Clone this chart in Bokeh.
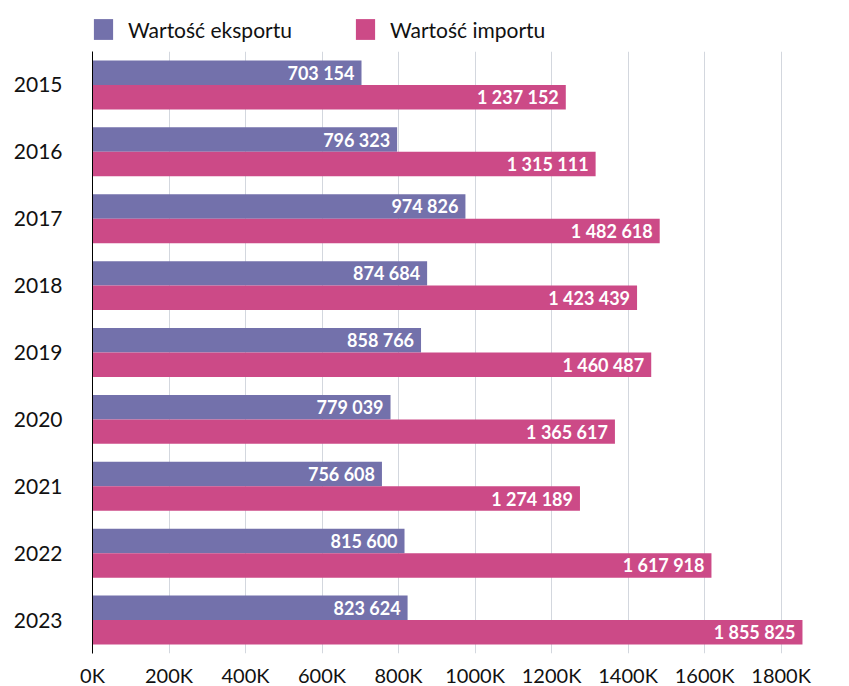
from bokeh.plotting import figure
from bokeh.layouts import column
from bokeh.models import (ColumnDataSource, FactorRange, Range1d, FixedTicker,
                          CustomJSTickFormatter, Legend, LegendItem)
from bokeh.transform import dodge
from bokeh.core.properties import value
from bokeh.embed import file_html
from bokeh.resources import INLINE

years = ["2015", "2016", "2017", "2018", "2019", "2020", "2021", "2022", "2023"]
export_vals = [703154, 796323, 974826, 874684, 858766, 779039, 756608, 815600, 823624]
import_vals = [1237152, 1315111, 1482618, 1423439, 1460487, 1365617, 1274189, 1617918, 1855825]
series_names = ["Wartość eksportu", "Wartość importu"]
x_ticks = [0, 200000, 400000, 600000, 800000, 1000000, 1200000, 1400000, 1600000, 1800000]

EXP_COLOR = "#7371ab"
IMP_COLOR = "#cc4a87"
FONT = "Lato"

def fmt(v):
    return f"{v:,}".replace(",", " ")

src = ColumnDataSource(dict(
    year=years,
    exp=export_vals,
    imp=import_vals,
    exp_lbl=[fmt(v) for v in export_vals],
    imp_lbl=[fmt(v) for v in import_vals],
))

# ---- main chart ----
p = figure(frame_width=746, frame_height=602, output_backend="svg", toolbar_location=None,
           y_range=FactorRange(*reversed(years)), x_range=Range1d(0, 1950000),
           min_border_left=92, min_border_right=3, min_border_top=0, min_border_bottom=26)
p.outline_line_color = None
p.background_fill_color = "white"

OFF = 0.183
H = 0.366
p.hbar(y=dodge("year", OFF, range=p.y_range), right="exp", left=0, height=H,
       source=src, color=EXP_COLOR, line_color=None)
p.hbar(y=dodge("year", -OFF, range=p.y_range), right="imp", left=0, height=H,
       source=src, color=IMP_COLOR, line_color=None)

p.text(x="exp", y=dodge("year", OFF, range=p.y_range), text="exp_lbl", source=src,
       x_offset=-7, text_align="right", text_baseline="middle", text_color="white",
       text_font=value(FONT), text_font_style="bold", text_font_size="18px")
p.text(x="imp", y=dodge("year", -OFF, range=p.y_range), text="imp_lbl", source=src,
       x_offset=-7, text_align="right", text_baseline="middle", text_color="white",
       text_font=value(FONT), text_font_style="bold", text_font_size="18px")

p.xaxis.ticker = FixedTicker(ticks=x_ticks)
p.xaxis.formatter = CustomJSTickFormatter(code="return (tick/1000).toFixed(0) + 'K';")
p.xaxis.axis_line_color = None
p.xaxis.major_tick_line_color = None
p.xaxis.minor_tick_line_color = None
p.xaxis.major_label_text_font = FONT
p.xaxis.major_label_text_font_size = "20px"
p.xaxis.major_label_text_color = "#111111"
p.xaxis.major_label_standoff = 3

p.yaxis.axis_line_color = "black"
p.yaxis.axis_line_width = 1
p.yaxis.major_tick_line_color = None
p.yaxis.minor_tick_line_color = None
p.yaxis.major_label_text_font = FONT
p.yaxis.major_label_text_font_size = "21px"
p.yaxis.major_label_text_color = "#111111"
p.yaxis.major_label_standoff = 24

p.xgrid.grid_line_color = "#d3d7de"
p.xgrid.grid_line_width = 1
p.ygrid.grid_line_color = None

# ---- legend strip ----
lg = figure(frame_width=746, frame_height=51, output_backend="svg", toolbar_location=None,
            x_axis_type=None, y_axis_type=None,
            x_range=Range1d(0, 1), y_range=Range1d(0, 1),
            min_border_left=92, min_border_right=3, min_border_top=0, min_border_bottom=0)
lg.outline_line_color = None
lg.xgrid.visible = False
lg.ygrid.visible = False
# proxy renderers for the legend (their data lie outside this strip's ranges)
le = lg.hbar(y="exp", right=0, left=0, height=0, source=src, color=EXP_COLOR, line_color=None)
li = lg.hbar(y="imp", right=0, left=0, height=0, source=src, color=IMP_COLOR, line_color=None)

legend = Legend(items=[LegendItem(label=series_names[0], renderers=[le]),
                       LegendItem(label=series_names[1], renderers=[li])],
                orientation="horizontal", location=(-1, 9))
legend.border_line_color = None
legend.background_fill_alpha = 0
legend.label_text_font = FONT
legend.label_text_font_size = "21px"
legend.label_text_color = "#111111"
legend.glyph_width = 24
legend.glyph_height = 26
legend.label_standoff = 13
legend.spacing = 61
legend.padding = 0
legend.margin = 0
lg.add_layout(legend, "center")

layout = column(lg, p, spacing=0)
open("out.html", "w").write(file_html(layout, INLINE))
